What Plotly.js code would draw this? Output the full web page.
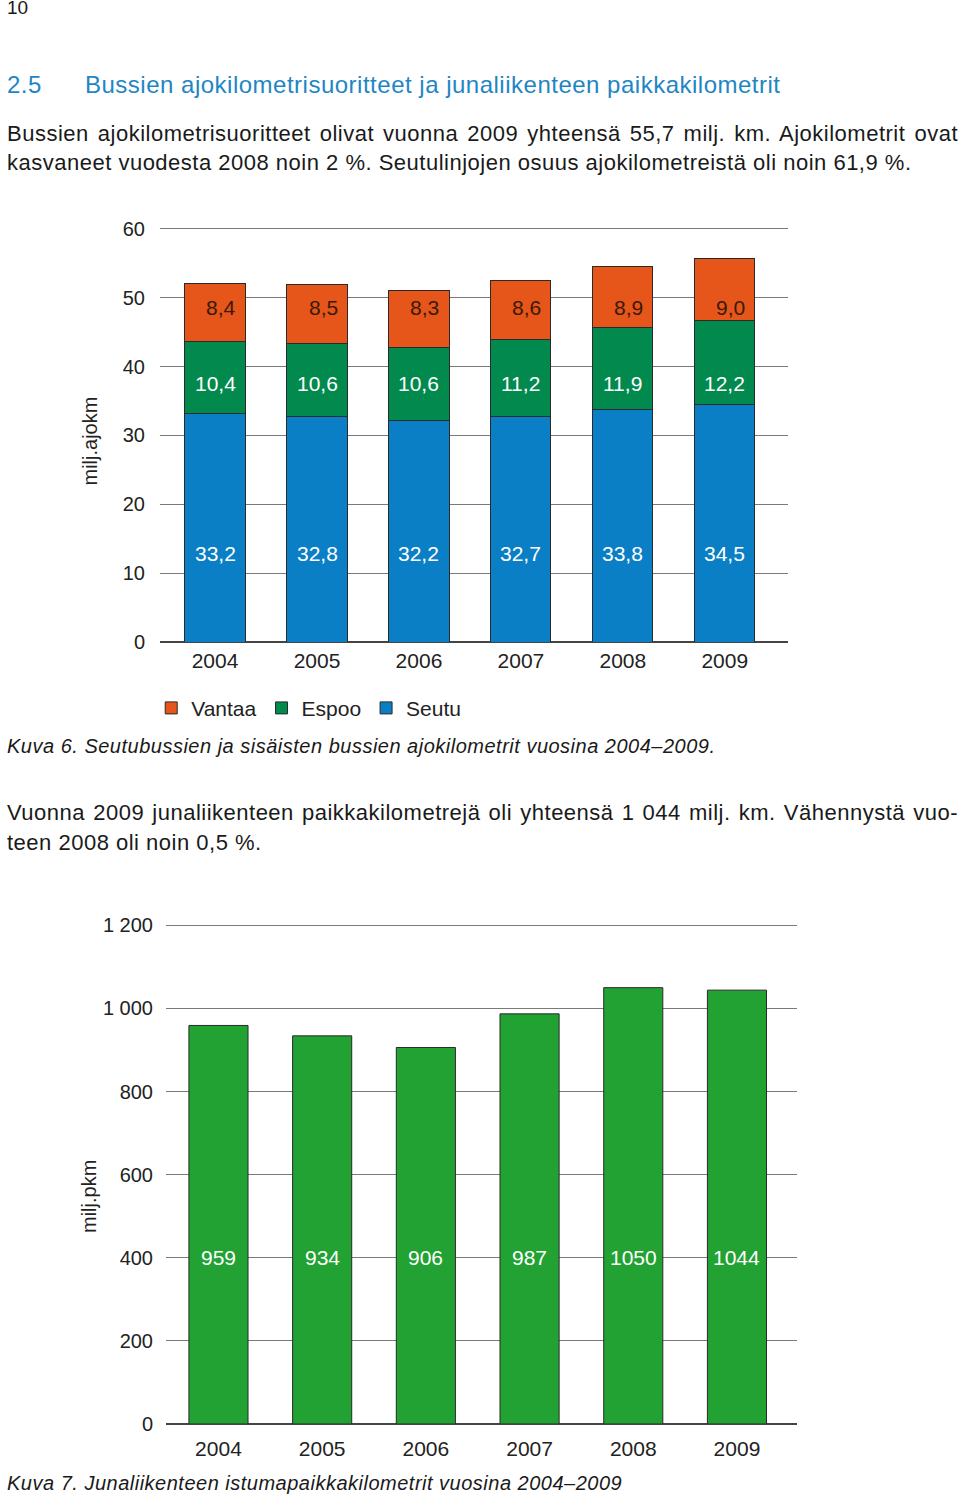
<!DOCTYPE html>
<html>
<head>
<meta charset="utf-8">
<script src="https://cdn.plot.ly/plotly-3.0.1.min.js"></script>
<style>
  body { margin:0; padding:0; width:960px; height:1500px; position:relative; background:#fff; font-family:"Liberation Sans", Arial, sans-serif; color:#1a1a1a; overflow:hidden; }
  .abs { position:absolute; white-space:nowrap; }
  .just { position:absolute; left:7px; width:951px; text-align:justify; text-align-last:justify; white-space:nowrap; font-size:22px; letter-spacing:0.5px; }
  .left { position:absolute; left:7px; font-size:22px; letter-spacing:0.5px; white-space:nowrap; }
  .cap { position:absolute; left:7px; font-style:italic; font-size:20px; letter-spacing:0.5px; white-space:nowrap; }
  #c1 { position:absolute; left:0; top:200px; width:960px; height:540px; }
  #c2 { position:absolute; left:0; top:880px; width:960px; height:600px; }
</style>
</head>
<body>
<div class="abs" style="left:7px; top:-3px; font-size:19px;">10</div>
<div class="abs" style="left:7px; top:71px; font-size:24px; letter-spacing:0.5px; color:#1f86c4;">2.5</div>
<div class="abs" style="left:85px; top:71px; font-size:24px; letter-spacing:0.5px; color:#1f86c4;">Bussien ajokilometrisuoritteet ja junaliikenteen paikkakilometrit</div>
<div class="just" style="top:121px;">Bussien ajokilometrisuoritteet olivat vuonna 2009 yhteensä 55,7 milj. km. Ajokilometrit ovat</div>
<div class="left" style="top:150px;">kasvaneet vuodesta 2008 noin 2 %. Seutulinjojen osuus ajokilometreistä oli noin 61,9 %.</div>
<div id="c1"></div>
<div class="cap" style="top:735px;">Kuva 6. Seutubussien ja sisäisten bussien ajokilometrit vuosina 2004–2009.</div>
<div class="just" style="top:800px;">Vuonna 2009 junaliikenteen paikkakilometrejä oli yhteensä 1 044 milj. km. Vähennystä vuo-</div>
<div class="left" style="top:830px;">teen 2008 oli noin 0,5 %.</div>
<div id="c2"></div>
<div class="cap" style="top:1472px;">Kuva 7. Junaliikenteen istumapaikkakilometrit vuosina 2004–2009</div>

<script>
// ---- Data ----
const years = ["2004", "2005", "2006", "2007", "2008", "2009"];
const seutu = [33.2, 32.8, 32.2, 32.7, 33.8, 34.5];
const espoo = [10.4, 10.6, 10.6, 11.2, 11.9, 12.2];
const vantaa = [8.4, 8.5, 8.3, 8.6, 8.9, 9.0];
const trainYears = ["2004", "2005", "2006", "2007", "2008", "2009"];
const trainPkm = [959, 934, 906, 987, 1050, 1044];
const busTicks = [0, 10, 20, 30, 40, 50, 60];
const trainTicks = [0, 200, 400, 600, 800, 1000, 1200];
const trainTickText = ["0", "200", "400", "600", "800", "1 000", "1 200"];

const FONT = '"Liberation Sans", Arial, sans-serif';
const outline = {color: '#2a2a2a', width: 1};
const fi = v => v.toFixed(1).replace('.', ',');

// ---- Chart 1 ----
const t1 = [
  {type:'bar', name:'Seutu', x:years, y:seutu, marker:{color:'#0a7fc6', line:outline}, hoverinfo:'skip'},
  {type:'bar', name:'Espoo', x:years, y:espoo, marker:{color:'#028a4e', line:outline}, hoverinfo:'skip'},
  {type:'bar', name:'Vantaa', x:years, y:vantaa, marker:{color:'#e65519', line:outline}, hoverinfo:'skip'}
];
// label heights (fixed rows as in the original figure)
const labelRows = [
  {vals: seutu, y: 12.9, color:'#ffffff', xshift:0},
  {vals: espoo, y: 37.55, color:'#ffffff', xshift:0},
  {vals: vantaa, y: 48.6, color:'#3a1a08', xshift:6}
];
const ann1 = [];
labelRows.forEach(r => r.vals.forEach((v, i) => ann1.push({
  x: i, y: r.y, xref:'x', yref:'y', text: fi(v), xshift: r.xshift,
  showarrow:false, font:{color:r.color, size:21, family:FONT}
})));
ann1.push({xref:'paper', yref:'paper', x:-0.111, y:0.478, text:'milj.ajokm', textangle:-90,
  showarrow:false, xanchor:'center', yanchor:'middle', font:{size:20, color:'#222', family:FONT}});

const layout1 = {
  width:960, height:540,
  margin:{l:160, r:172, t:22, b:97},
  barmode:'stack', bargap:0.41,
  paper_bgcolor:'#fff', plot_bgcolor:'#fff',
  font:{family:FONT, color:'#222'},
  showlegend:true,
  legend:{orientation:'h', traceorder:'reversed', x:-0.014, xanchor:'left', y:-0.155, yanchor:'middle',
    font:{size:21, color:'#222', family:FONT}},
  xaxis:{type:'category', range:[-0.54, 5.62], autorange:false, showgrid:false, showline:false, ticks:'', ticklabelstandoff:4,
    tickfont:{size:21, color:'#222'}, fixedrange:true},
  yaxis:{range:[0, 61], autorange:false, tickvals:busTicks, ticktext:busTicks.map(String), showgrid:true, gridcolor:'#7a7a7a', gridwidth:1,
    zeroline:true, zerolinecolor:'#444', zerolinewidth:1.5, ticks:'', ticklabelstandoff:14,
    tickfont:{size:20, color:'#222'}, fixedrange:true},
  annotations: ann1
};
Plotly.newPlot('c1', t1, layout1, {staticPlot:true});

// ---- Chart 2 ----
const t2 = [
  {type:'bar', name:'Juna', x:trainYears, y:trainPkm, marker:{color:'#21a232', line:outline}, hoverinfo:'skip'}
];
const trainLabelY = 400;
const ann2 = trainPkm.map((v, i) => ({
  x: i, y: trainLabelY, xref:'x', yref:'y', text: String(v),
  showarrow:false, font:{color:'#ffffff', size:21, family:FONT}
}));
ann2.push({xref:'paper', yref:'paper', x:-0.121, y:0.449, text:'milj.pkm', textangle:-90,
  showarrow:false, xanchor:'center', yanchor:'middle', font:{size:20, color:'#222', family:FONT}});

const layout2 = {
  width:960, height:600,
  margin:{l:166, r:163, t:37, b:56},
  bargap:0.43,
  paper_bgcolor:'#fff', plot_bgcolor:'#fff',
  font:{family:FONT, color:'#222'},
  showlegend:false,
  xaxis:{type:'category', range:[-0.506, 5.579], autorange:false, showgrid:false, showline:false, ticks:'', ticklabelstandoff:10,
    tickfont:{size:21, color:'#222'}, fixedrange:true},
  yaxis:{range:[0, 1220], autorange:false, tickvals:trainTicks, ticktext:trainTickText, showgrid:true, gridcolor:'#7a7a7a', gridwidth:1,
    zeroline:true, zerolinecolor:'#444', zerolinewidth:1.5, ticks:'', ticklabelstandoff:12,
    tickfont:{size:20, color:'#222'}, fixedrange:true},
  annotations: ann2
};
Plotly.newPlot('c2', t2, layout2, {staticPlot:true});
</script>
</body>
</html>
